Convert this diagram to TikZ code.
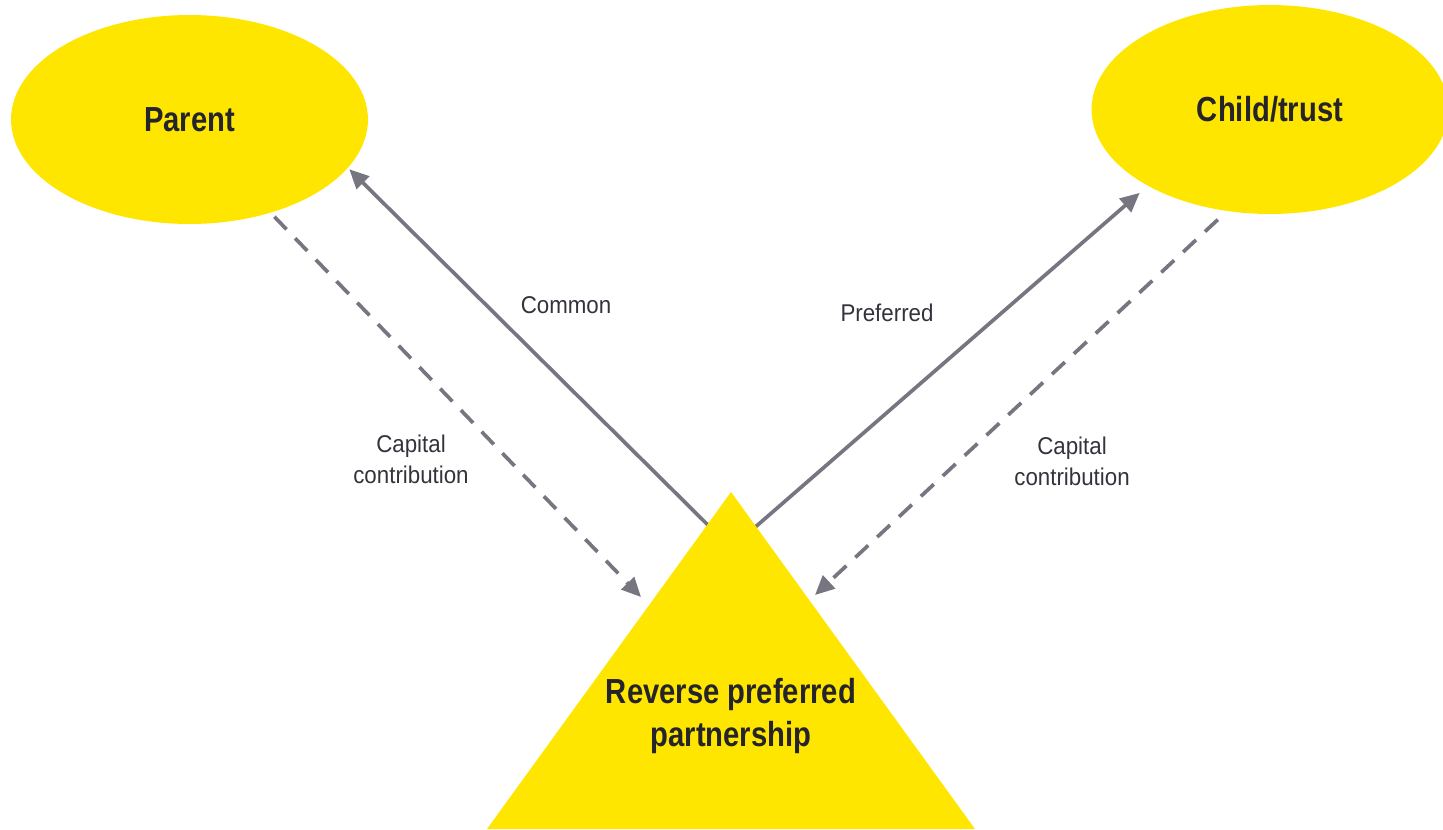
\documentclass[tikz,border=0pt]{standalone}
\usepackage{fontspec}
\setmainfont{Liberation Sans}
\newfontfamily\headfont{Liberation Sans}[FakeStretch=0.84]
\newfontfamily\notefont{Liberation Sans}[FakeStretch=0.92]
\usepackage{tikz}
\usetikzlibrary{arrows.meta,shapes.geometric}
\definecolor{blob}{HTML}{FFE600}
\definecolor{link}{HTML}{777680}
\definecolor{ink}{HTML}{24242A}
\definecolor{note}{HTML}{33333C}

\begin{document}
\begin{tikzpicture}[x=0.02cm,y=-0.02cm,  % 1 unit = 1 px, y runs down
  party/.style={ellipse,fill=blob,inner sep=0pt,minimum width=7.14cm,minimum height=4.18cm,
    text=ink,font=\headfont\bfseries\fontsize{19.8}{25}\selectfont},
  flow/.style={link,line width=2.1pt,-{Triangle[length=11pt,width=10pt]}},
  cash/.style={flow,dash pattern=on 10pt off 7pt},
  tag/.style={text=note,align=center,font=\notefont\fontsize{13.8}{17.6}\selectfont}]
  \useasboundingbox (0,0) rectangle (1443,829);
  % ---- the two holders
  \node[party] (parent) at (189.5,119.5) {Parent};
  \node[party] (child) at (1270,109.5) {Child/trust};
  % ---- interests held, starting under the triangle
  \coordinate (comFoot) at (720,537);
  \coordinate (prefFoot) at (745,536);
  \draw[flow,shorten >=1pt] (comFoot) -- (parent.-17);
  \draw[flow,shorten >=6pt] (prefFoot) -- (child.-148);
  % ---- the partnership
  \coordinate (apex) at (731,492);
  \coordinate (baseL) at (487,829);
  \coordinate (baseR) at (975,829);
  \fill[blob] (apex) -- (baseL) -- (baseR) -- cycle;
  \node[text=ink,align=center,font=\headfont\bfseries\fontsize{19.8}{25}\selectfont] (rpp) at (731,716)
    {Reverse preferred\\partnership};
  % ---- contributions
  \coordinate (capL) at (641,597);
  \coordinate (capR) at (815,595);
  \draw[cash,shorten <=3pt] (parent.-49) -- (capL);
  \draw[cash,shorten <=7pt] (child.-113) -- (capR);
  % ---- labels
  \node[tag] (common) at (566,305) {Common};
  \node[tag] (pref) at (887,313) {Preferred};
  \node[tag] (contribL) at (411,459) {Capital\\contribution};
  \node[tag] (contribR) at (1072,461) {Capital\\contribution};
\end{tikzpicture}
\end{document}
